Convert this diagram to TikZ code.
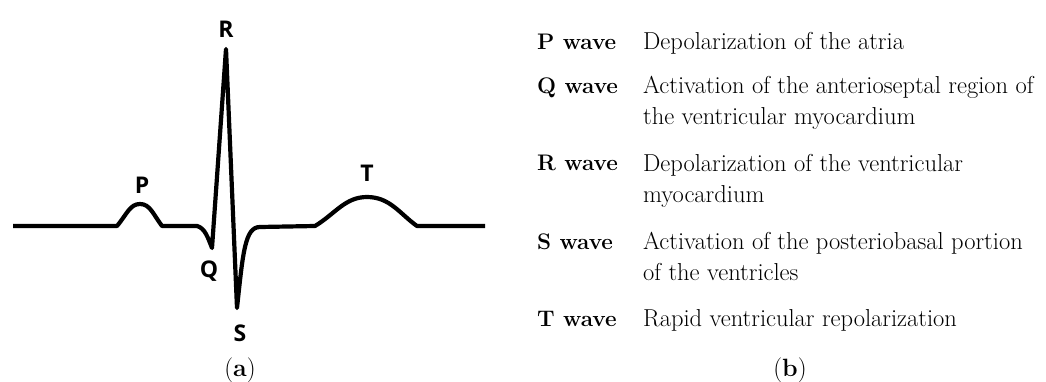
\documentclass[tikz,border=0pt]{standalone}
\usepackage{fontspec}
\newfontfamily\ecgfont{Open Sans}
\tikzset{
  peak/.style={font=\ecgfont\bfseries\fontsize{23}{24}\selectfont,inner sep=0pt},
  wavename/.style={font=\bfseries\fontsize{22.5}{31}\selectfont,anchor=base west,inner sep=0pt},
  meaning/.style={font=\fontsize{24.5}{31}\selectfont,anchor=base west,inner sep=0pt,align=left},
  caption/.style={font=\fontsize{25}{26}\selectfont,anchor=base,inner sep=0pt}
}
\begin{document}
\begin{tikzpicture}[x=1pt,y=-1pt,line width=4.2pt,line join=round]
  \useasboundingbox (0,0) rectangle (1046,382);
  % the ECG trace
  \draw (13,226) -- (117,226)
    .. controls (127,214) and (130,204) .. (140,204)
    .. controls (150,204) and (153,214) .. (162,226)
    -- (197,226) .. controls (205,228) and (208,238) .. (212,248)
    -- (226,49) -- (237,308)
    .. controls (243,252) and (245,227) .. (260,227)
    -- (315,226)
    .. controls (335,214) and (345,197) .. (367,197)
    .. controls (390,197) and (400,214) .. (417,226)
    -- (485,226);
  \node[peak] (pkR) at (226,29) {R};
  \node[peak] (pkP) at (142,185) {P};
  \node[peak] (pkQ) at (209,271) {Q};
  \node[peak] (pkS) at (240,333) {S};
  \node[peak] (pkT) at (367,173) {T};
  \node[caption] (capA) at (240,376) {(\textbf{a})};
  % the table (base of a two-line text is its last line)
  \foreach \w/\yy in {P/50,Q/94,R/171,S/249,T/326}
    \node[wavename] (name\w) at (535,\yy) {\w{} wave};
  \node[meaning] (txtP) at (641,50) {Depolarization of the atria};
  \node[meaning] (txtQ) at (641,125) {Activation of the anterioseptal region of\\the ventricular myocardium};
  \node[meaning] (txtR) at (641,202) {Depolarization of the ventricular\\myocardium};
  \node[meaning] (txtS) at (641,280) {Activation of the posteriobasal portion\\of the ventricles};
  \node[meaning] (txtT) at (641,326) {Rapid ventricular repolarization};
  \node[caption] (capB) at (790,376) {(\textbf{b})};
\end{tikzpicture}
\end{document}
